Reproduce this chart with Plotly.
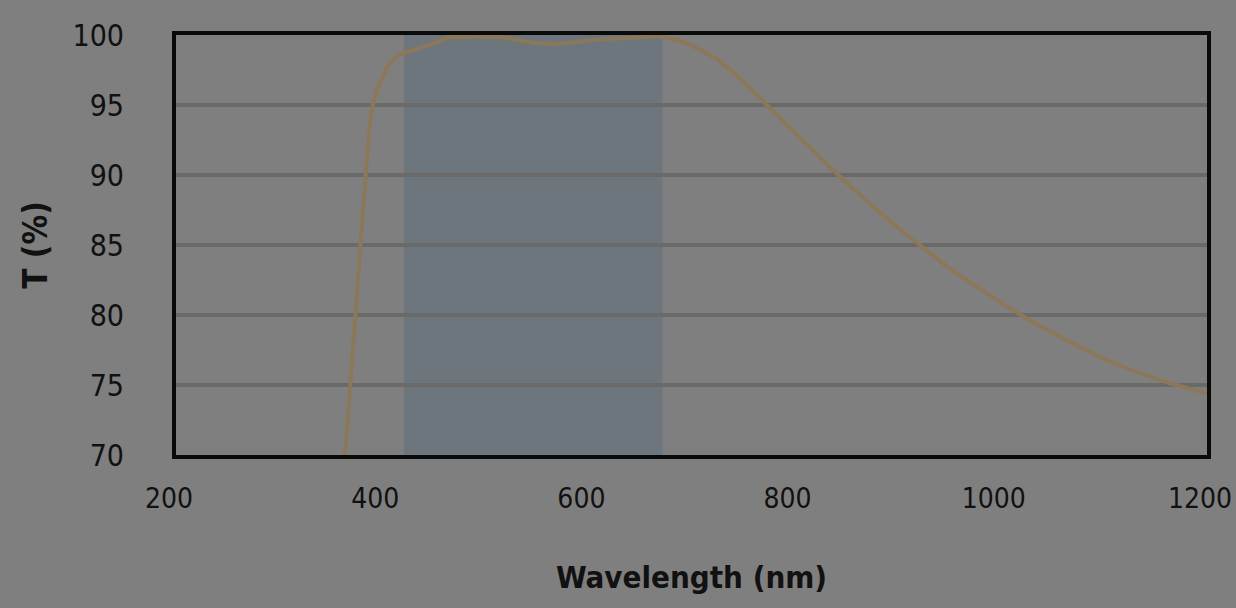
import plotly.graph_objects as go

wavelength_nm = [364, 369, 374, 379, 384, 388, 391, 395, 400, 404, 409, 414, 420, 433,
                 446, 464, 490, 520, 546, 575, 611, 643, 669, 692, 708, 725, 740, 757,
                 773, 805, 841, 880, 918, 951, 967, 1015, 1064, 1112, 1161, 1200]
transmission_pct = [70.0, 74.9, 80.0, 85.0, 90.0, 93.5, 95.0, 96.1, 96.9, 97.6, 98.1,
                    98.45, 98.7, 99.0, 99.3, 99.8, 99.9, 99.8, 99.45, 99.4, 99.7, 99.8,
                    99.9, 99.5, 98.95, 98.25, 97.35, 96.15, 95.0, 92.7, 90.1, 87.5, 85.2,
                    83.3, 82.5, 80.2, 78.2, 76.5, 75.2, 74.4]
band_nm = [421, 672]
x_ticks = [200, 400, 600, 800, 1000, 1200]
y_ticks = [70, 75, 80, 85, 90, 95, 100]

BG = "#7f7f7f"
FONT = "DejaVu Sans Condensed, DejaVu Sans, sans-serif"
INK = "#111111"

fig = go.Figure()
fig.add_trace(go.Scatter(
    x=wavelength_nm, y=transmission_pct, mode="lines",
    line=dict(color="#8c7858", width=4, shape="spline", smoothing=0.8),
    hoverinfo="skip", showlegend=False,
))
fig.add_vrect(x0=band_nm[0], x1=band_nm[1], fillcolor="#6e767d", opacity=1,
              line_width=0, layer="below")

fig.update_layout(
    width=1236, height=608, autosize=False,
    margin=dict(l=176, r=29, t=35, b=153),
    paper_bgcolor=BG, plot_bgcolor=BG,
    font=dict(family=FONT, color=INK),
)
fig.update_xaxes(
    range=[200, 1200], tickvals=x_ticks, ticktext=[str(v) for v in x_ticks],
    showgrid=False, zeroline=False, automargin=False,
    showline=True, linecolor="#0a0a0a", linewidth=4, mirror=True,
    tickfont=dict(size=28, family=FONT, color=INK),
    ticks="", ticklabelstandoff=15, ticklabelshift=-7, ticklabeloverflow="allow",
    title=dict(text="<b>Wavelength (nm)</b>", font=dict(size=31, family=FONT, color=INK),
               standoff=54),
)
fig.update_yaxes(
    range=[70, 100], tickvals=y_ticks, ticktext=[str(v) for v in y_ticks],
    showgrid=True, gridcolor="#6a6a6a", gridwidth=3.5, zeroline=False, automargin=False,
    showline=True, linecolor="#0a0a0a", linewidth=4, mirror=True,
    tickfont=dict(size=30, family=FONT, color=INK),
    ticks="", ticklabelstandoff=42, ticklabeloverflow="allow",
    title=dict(text="<b>T (%)</b>", font=dict(size=33, family=FONT, color=INK),
               standoff=16),
)
fig.write_html(
    "out.html",
    config={"displayModeBar": False, "responsive": False},
    post_script="document.body.style.margin='0';document.body.style.overflow='hidden';"
                "document.documentElement.style.overflow='hidden';",
)
